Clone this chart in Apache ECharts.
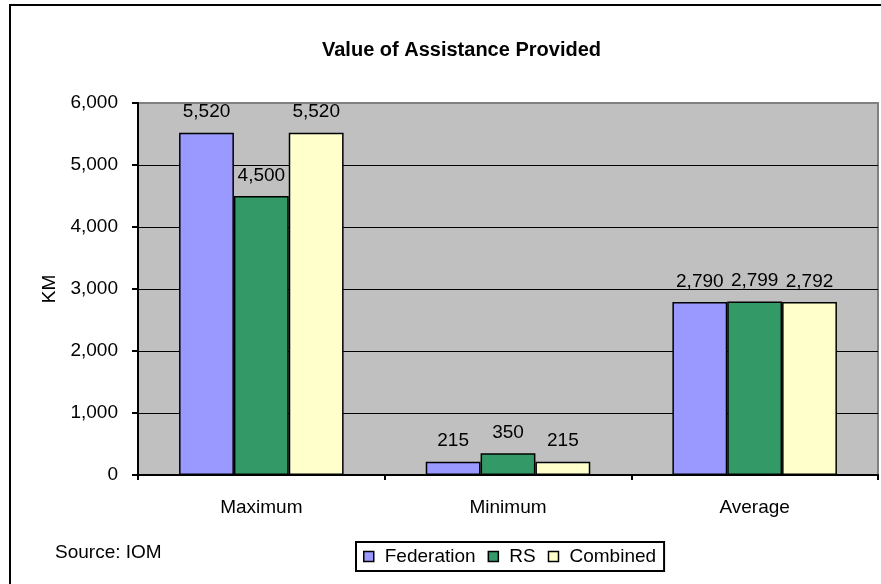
<!DOCTYPE html>
<html>
<head>
<meta charset="utf-8">
<title>Value of Assistance Provided</title>
<script src="https://cdn.jsdelivr.net/npm/echarts@6/dist/echarts.min.js"></script>
<style>
  html, body { margin: 0; padding: 0; background: #ffffff; }
  #chart { width: 881px; height: 584px; }
</style>
</head>
<body>
<div id="chart"></div>
<script>
// Categories and values (KM)
var categories = ['Maximum', 'Minimum', 'Average'];
var federation = [5520, 215, 2790];
var rs = [4500, 350, 2799];
var combined = [5520, 215, 2792];
var seriesNames = ['Federation', 'RS', 'Combined'];
var yTicks = [0, 1000, 2000, 3000, 4000, 5000, 6000];

var FONT = '"Liberation Sans", Arial, sans-serif';
var fmt = function (v) { return Number(v).toLocaleString('en-US'); };

var colors = ['#9999FF', '#339966', '#FFFFCC'];
var seriesData = [federation, rs, combined];

var chart = echarts.init(document.getElementById('chart'), null, { renderer: 'canvas' });

var series = seriesNames.map(function (name, i) {
  return {
    name: name,
    type: 'bar',
    data: seriesData[i],
    barGap: '0%',
    barCategoryGap: '33.3%',
    itemStyle: { color: colors[i], borderColor: '#000000', borderWidth: 1.5 },
    label: {
      show: true,
      position: 'top',
      distance: 11,
      color: '#000000',
      fontFamily: FONT,
      fontSize: 19,
      formatter: function (p) { return fmt(p.value); }
    },
    emphasis: { disabled: true },
    animation: false
  };
});

chart.setOption({
  animation: false,
  backgroundColor: '#ffffff',
  title: {
    text: 'Value of Assistance Provided',
    left: 317,
    top: 35,
    textStyle: { fontFamily: FONT, fontSize: 20, fontWeight: 'bold', color: '#000000' }
  },
  graphic: [
    {
      type: 'rect',
      shape: { x: 10, y: 5, width: 1000, height: 1000 },
      style: { fill: 'none', stroke: '#000000', lineWidth: 2 },
      silent: true,
      z: 100
    },
    {
      type: 'text',
      left: 55,
      top: 543,
      style: { text: 'Source: IOM', font: '19px ' + FONT, fill: '#000000' },
      silent: true
    }
  ],
  legend: {
    data: seriesNames,
    left: 356,
    top: 542,
    orient: 'horizontal',
    padding: [5, 8, 5, 7],
    itemGap: 12,
    itemWidth: 10,
    itemHeight: 10,
    icon: 'rect',
    borderColor: '#000000',
    borderWidth: 2,
    backgroundColor: '#ffffff',
    itemStyle: { borderColor: '#000000', borderWidth: 1.5 },
    textStyle: { fontFamily: FONT, fontSize: 19, color: '#000000', padding: [0, 0, 0, 6] },
    selectedMode: false
  },
  grid: {
    left: 138,
    right: 3,
    top: 103,
    bottom: 109,
    show: true,
    backgroundColor: '#C0C0C0',
    borderColor: '#808080',
    borderWidth: 2
  },
  xAxis: {
    type: 'category',
    data: categories,
    axisLine: { lineStyle: { color: '#000000', width: 2 } },
    axisTick: { show: true, alignWithLabel: false, length: 5, lineStyle: { color: '#000000', width: 2 } },
    axisLabel: { color: '#000000', fontFamily: FONT, fontSize: 19, margin: 23 },
    splitLine: { show: false }
  },
  yAxis: {
    type: 'value',
    min: yTicks[0],
    max: yTicks[yTicks.length - 1],
    interval: yTicks[1] - yTicks[0],
    name: 'KM',
    nameLocation: 'middle',
    nameGap: 76,
    nameRotate: 90,
    nameTextStyle: { color: '#000000', fontFamily: FONT, fontSize: 19 },
    axisLine: { show: true, lineStyle: { color: '#000000', width: 2 } },
    axisTick: { show: true, length: 6, lineStyle: { color: '#000000', width: 2 } },
    axisLabel: { color: '#000000', fontFamily: FONT, fontSize: 19, margin: 20, formatter: fmt },
    splitLine: { show: true, showMaxLine: false, lineStyle: { color: '#000000', width: 1 } }
  },
  series: series
});
</script>
</body>
</html>
